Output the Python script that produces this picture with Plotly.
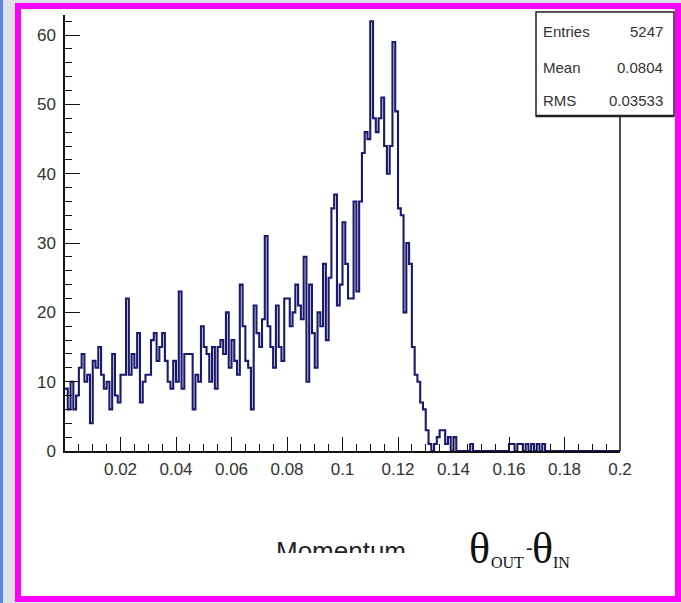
import numpy as np
import plotly.graph_objects as go

# Histogram of theta_out - theta_in: 200 bins of width 0.001 over [0, 0.2]
bin_low = 0.0
bin_width = 0.001
counts = [
    9, 6, 10, 6, 8, 12, 14, 10, 11, 4,
    13, 12, 15, 11, 9, 10, 6, 14, 8, 7,
    11, 11, 22, 11, 14, 12, 17, 7, 10, 11,
    11, 16, 17, 13, 15, 17, 13, 10, 9, 13,
    10, 23, 9, 14, 14, 14, 6, 11, 10, 18,
    15, 14, 10, 15, 9, 15, 16, 14, 20, 12,
    16, 13, 11, 24, 18, 13, 12, 6, 21, 17,
    15, 19, 31, 18, 15, 12, 21, 15, 13, 22,
    22, 18, 20, 24, 21, 19, 28, 10, 24, 17,
    12, 20, 18, 27, 16, 25, 35, 37, 21, 24,
    33, 27, 22, 22, 36, 23, 36, 43, 46, 45,
    62, 48, 46, 48, 51, 44, 40, 44, 59, 49,
    35, 34, 20, 30, 27, 15, 11, 10, 7, 6,
    3, 1, 0, 1, 2, 3, 3, 1, 2, 0,
    2, 0, 0, 0, 0, 0, 1, 0, 0, 0,
    0, 0, 0, 0, 0, 0, 0, 0, 0, 0,
    1, 1, 0, 1, 1, 0, 1, 0, 1, 0,
    1, 0, 1, 0, 0, 0, 0, 0, 0, 0,
    0, 0, 0, 0, 0, 0, 0, 0, 0, 0,
    0, 0, 0, 0, 0, 0, 0, 0, 0, 0,
]

stats_names = ["Entries", "Mean", "RMS"]
stats_values = ["5247", "0.0804", "0.03533"]

x_ticks = [0.02, 0.04, 0.06, 0.08, 0.1, 0.12, 0.14, 0.16, 0.18, 0.2]
x_tick_text = ["0.02", "0.04", "0.06", "0.08", "0.1", "0.12", "0.14", "0.16", "0.18", "0.2"]
y_ticks = [0, 10, 20, 30, 40, 50, 60]

W, H = 681, 603


def px(x):
    return x / W


def py(y):
    return 1 - y / H


edges = bin_low + bin_width * np.arange(len(counts) + 1)
step_y = list(counts) + [counts[-1]]

fig = go.Figure()
fig.add_trace(go.Scatter(
    x=edges, y=step_y, mode="lines", line_shape="hv",
    line=dict(color="#19196e", width=2.1),
    hoverinfo="skip", showlegend=False,
))

# Axis title text, clipped at the lower edge of its own small subplot
fig.add_trace(go.Scatter(
    x=[0.5], y=[0.0], mode="text", text=["Momentum"],
    textposition="middle center",
    textfont=dict(family="Liberation Sans", size=26, color="#222222"),
    xaxis="x2", yaxis="y2", cliponaxis=True,
    hoverinfo="skip", showlegend=False,
))

fig.update_layout(
    width=W, height=H,
    margin=dict(l=0, r=0, t=0, b=0, pad=0, autoexpand=False),
    paper_bgcolor="#dde2ea",
    plot_bgcolor="rgba(0,0,0,0)",
    showlegend=False,
    xaxis=dict(
        domain=[px(65), px(620)], range=[0, 0.2],
        showgrid=False, zeroline=False,
        showline=True, linecolor="#111111", linewidth=1.5,
        ticks="inside", ticklen=14, tickwidth=1.2, tickcolor="#111111",
        tickvals=x_ticks, ticktext=x_tick_text,
        minor=dict(ticks="inside", ticklen=7, dtick=0.005, tick0=0, tickcolor="#111111", tickwidth=1.2),
        tickfont=dict(family="Liberation Sans", size=17, color="#333333"),
        ticklabelstandoff=2, automargin=False,
    ),
    yaxis=dict(
        domain=[py(451), py(15)], range=[0, 62.9],
        showgrid=False, zeroline=False,
        showline=True, linecolor="#111111", linewidth=1.5,
        ticks="inside", ticklen=15, tickwidth=1.2, tickcolor="#111111",
        tickvals=y_ticks,
        minor=dict(ticks="inside", ticklen=7, dtick=2, tick0=0, tickcolor="#111111", tickwidth=1.2),
        tickfont=dict(family="Liberation Sans", size=17, color="#333333"),
        ticklabelstandoff=4, automargin=False,
    ),
    xaxis2=dict(domain=[px(246), px(436)], range=[0, 1], visible=False, fixedrange=True,
                anchor="y2"),
    yaxis2=dict(domain=[py(553), py(525)], range=[0, 1], visible=False, fixedrange=True,
                anchor="x2"),
)

shapes = []
# slide strip at the left edge
shapes.append(dict(type="rect", xref="paper", yref="paper",
                   x0=0, x1=px(3), y0=0, y1=1, line_width=0,
                   fillcolor="#5b86e0", layer="below"))
# magenta frame around the picture
shapes.append(dict(type="rect", xref="paper", yref="paper",
                   x0=px(18), x1=px(678), y0=py(599), y1=py(6),
                   line=dict(color="#ff00ff", width=6), fillcolor="white",
                   layer="below"))
# right edge of the histogram frame
shapes.append(dict(type="line", xref="paper", yref="paper",
                   x0=px(620), x1=px(620), y0=py(451), y1=py(116),
                   line=dict(color="#111111", width=1.5)))
# statistics box
shapes.append(dict(type="rect", xref="paper", yref="paper",
                   x0=px(536), x1=px(674), y0=py(116), y1=py(12),
                   line=dict(color="#222222", width=1.5), fillcolor="white"))
shapes.append(dict(type="line", xref="paper", yref="paper",
                   x0=px(536), x1=px(674), y0=py(116), y1=py(116),
                   line=dict(color="#222222", width=2.5)))
fig.update_layout(shapes=shapes)

annotations = []
row_y = [32, 67, 100]
for name, val, yy in zip(stats_names, stats_values, row_y):
    annotations.append(dict(xref="paper", yref="paper", x=px(541), y=py(yy),
                            text=name, showarrow=False, xanchor="left", yanchor="middle",
                            font=dict(family="Liberation Sans", size=15, color="#333333")))
    annotations.append(dict(xref="paper", yref="paper", x=px(665), y=py(yy),
                            text=val, showarrow=False, xanchor="right", yanchor="middle",
                            font=dict(family="Liberation Sans", size=15, color="#333333")))

# theta_OUT - theta_IN label
serif = "Liberation Serif"
annotations += [
    dict(xref="paper", yref="paper", x=px(479), y=py(548), text="θ", showarrow=False,
         xanchor="center", yanchor="middle", font=dict(family=serif, size=44, color="#111111")),
    dict(xref="paper", yref="paper", x=px(507), y=py(562), text="OUT", showarrow=False,
         xanchor="center", yanchor="middle", font=dict(family=serif, size=16, color="#111111")),
    dict(xref="paper", yref="paper", x=px(529), y=py(547), text="-", showarrow=False,
         xanchor="center", yanchor="middle", font=dict(family=serif, size=20, color="#111111")),
    dict(xref="paper", yref="paper", x=px(542), y=py(548), text="θ", showarrow=False,
         xanchor="center", yanchor="middle", font=dict(family=serif, size=44, color="#111111")),
    dict(xref="paper", yref="paper", x=px(561), y=py(562), text="IN", showarrow=False,
         xanchor="center", yanchor="middle", font=dict(family=serif, size=16, color="#111111")),
]
fig.update_layout(annotations=annotations)

fig.write_html("out.html")
